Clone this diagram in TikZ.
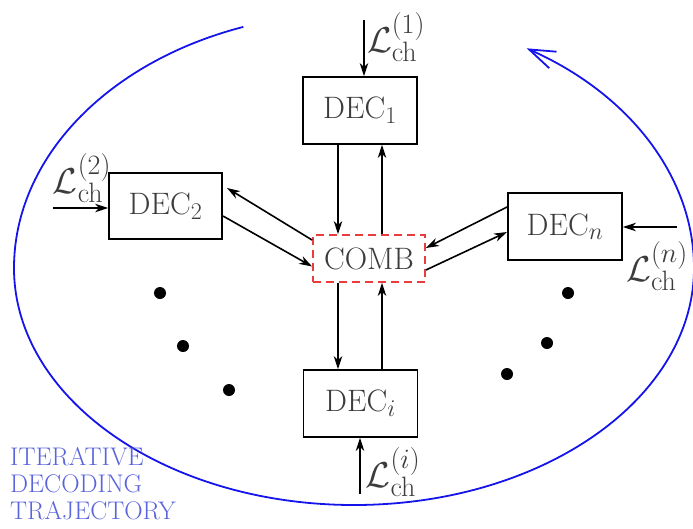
\RequirePackage{fix-cm}
\documentclass[tikz,border=0pt]{standalone}
\usetikzlibrary{arrows.meta}
\DeclareMathSizes{31}{31}{24}{18}
\DeclareMathSizes{36}{36}{28}{21}
\definecolor{txtgray}{RGB}{60,60,60}
\definecolor{combred}{RGB}{235,60,60}
\definecolor{trajblue}{RGB}{20,20,235}
\definecolor{labelblue}{RGB}{90,100,220}
\begin{document}
\begin{tikzpicture}[x=1pt,y=-1pt,
  decbox/.style={draw=black,line width=1.8pt,minimum width=114pt,minimum height=67pt,inner sep=0pt,text=txtgray,font=\fontsize{31}{35}\selectfont},
  combbox/.style={draw=combred,line width=1.8pt,dash pattern=on 8pt off 5pt,minimum width=112pt,minimum height=47pt,inner sep=0pt,text=txtgray,font=\fontsize{31}{35}\selectfont},
  chlabel/.style={inner sep=0pt,text=txtgray,font=\fontsize{36}{40}\selectfont},
  conn/.style={line width=1.6pt,-{Stealth[length=13pt,width=8.5pt,inset=4pt]}},
  dotmark/.style={circle,fill=black,inner sep=0pt,minimum size=12pt},
  traj/.style={draw=trajblue,line width=1.8pt,-{Straight Barb[length=26pt,width=18pt,line width=1.8pt]}},
  trajtext/.style={text=labelblue,align=left,inner sep=0pt,font=\fontsize{25.5}{27}\selectfont}
]
\useasboundingbox (0,0) rectangle (693,528);

% blue trajectory
\draw[traj] (243.3,26.9)
  arc[start angle=-109,end angle=-180,x radius=340,y radius=255]
  arc[start angle=-180,end angle=-360,x radius=340,y radius=237]
  arc[start angle=0,end angle=-59.5,x radius=340,y radius=255];

% boxes
\node[decbox] (d1) at (360,110.5) {DEC$_1$};
\node[decbox,minimum width=113pt,minimum height=66pt] (d2) at (165.5,206) {DEC$_2$};
\node[decbox] (dn) at (565,226.5) {DEC$_n$};
\node[decbox] (di) at (360.5,403.5) {DEC$_i$};
\node[combbox] (comb) at (369,258.5) {COMB};

% channel inputs
\coordinate (c1) at (364,20);
\coordinate (c2) at (53,208);
\coordinate (cn) at (677,227);
\coordinate (ci) at (360,494);
\draw[conn] (c1) -- (c1 |- d1.north);
\draw[conn] (c2) -- (c2 -| d2.west);
\draw[conn] (cn) -- (cn -| dn.east);
\draw[conn] (ci) -- (ci |- di.south);

\node[chlabel] (l1) at (396,37) {$\mathcal{L}_{\mathrm{ch}}^{(1)}$};
\node[chlabel] (l2) at (82,178) {$\mathcal{L}_{\mathrm{ch}}^{(2)}$};
\node[chlabel] (ln) at (657,266) {$\mathcal{L}_{\mathrm{ch}}^{(n)}$};
\node[chlabel] (li) at (393,472) {$\mathcal{L}_{\mathrm{ch}}^{(i)}$};

% DEC1 <-> COMB
\draw[conn] ([xshift=-22pt]d1.south) -- ([xshift=-22pt]d1.south |- comb.north);
\draw[conn] ([xshift=22pt]d1.south |- comb.north) -- ([xshift=22pt]d1.south);
% DECi <-> COMB
\draw[conn] ([xshift=-22.5pt]di.north |- comb.south) -- ([xshift=-22.5pt]di.north);
\draw[conn] ([xshift=21.5pt]di.north) -- ([xshift=21.5pt]di.north |- comb.south);
% DEC2 <-> COMB
\coordinate (a2) at (227,188);
\coordinate (b2) at (223,216);
\draw[conn] ([yshift=18.5pt]comb.west) -- (a2);
\draw[conn] (b2) -- ([yshift=-8pt]comb.west);
% DECn <-> COMB
\coordinate (an) at (507,207);
\coordinate (bn) at (507,232);
\draw[conn] (an) -- ([yshift=10.5pt]comb.east);
\draw[conn] ([yshift=-11.5pt]comb.east) -- (bn);

% dots
\node[dotmark] (p1) at (160,293) {};
\node[dotmark] (p2) at (183,346) {};
\node[dotmark] (p3) at (229,390) {};
\node[dotmark] (q1) at (568,293) {};
\node[dotmark] (q2) at (547,343) {};
\node[dotmark] (q3) at (507,374) {};

\node[trajtext,anchor=north west] (tt) at (10,447) {ITERATIVE\\DECODING\\TRAJECTORY};
\end{tikzpicture}
\end{document}
